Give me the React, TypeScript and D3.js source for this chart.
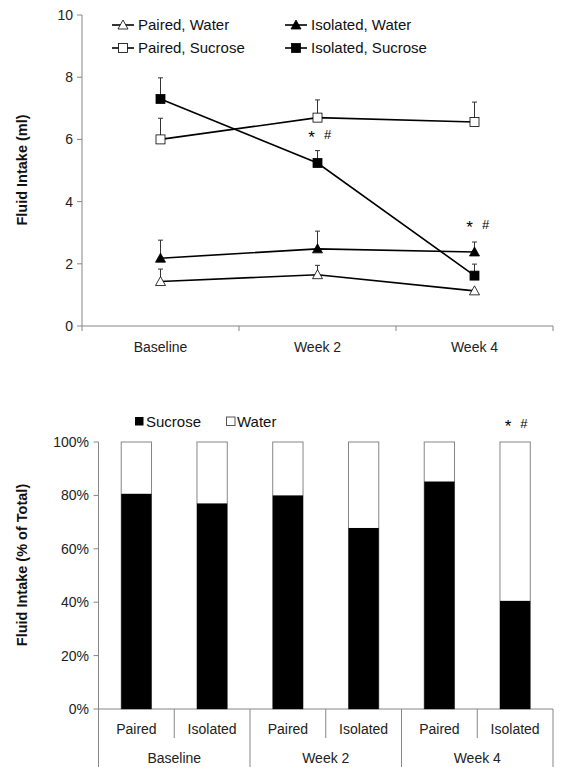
import React from "react";
import * as d3 from "d3";

const timepoints = ["Baseline", "Week 2", "Week 4"];
const lineSeries = ["Paired, Water", "Isolated, Water", "Paired, Sucrose", "Isolated, Sucrose"];
const pairedWater = [1.43, 1.65, 1.13];
const pairedWaterErr = [0.4, 0.3, 0.0];
const isolatedWater = [2.18, 2.48, 2.38];
const isolatedWaterErr = [0.58, 0.57, 0.32];
const pairedSucrose = [6.0, 6.7, 6.56];
const pairedSucroseErr = [0.68, 0.57, 0.64];
const isolatedSucrose = [7.3, 5.24, 1.62];
const isolatedSucroseErr = [0.68, 0.4, 0.37];
const topTicks = [0, 2, 4, 6, 8, 10];

const groups = ["Paired", "Isolated"];
const sucrosePct = [80.6, 77, 80, 67.8, 85.2, 40.5];
const pctTicks = [0, 20, 40, 60, 80, 100];
const barLegend = ["Sucrose", "Water"];

const FONT = "'Liberation Sans', Arial, sans-serif";
const AXIS = "#868686";

function Marker({ kind, x, y }: { kind: string; x: number; y: number }) {
  const filled = kind.startsWith("Isolated");
  const fill = filled ? "#000" : "#fff";
  if (kind.endsWith("Water")) {
    const s = 5;
    const p = `M${x},${y - s} L${x + s},${y + s * 0.8} L${x - s},${y + s * 0.8} Z`;
    return <path d={p} fill={fill} stroke="#000" strokeWidth={0.8} />;
  }
  return <rect x={x - 4.5} y={y - 4.5} width={9} height={9} fill={fill} stroke="#000" strokeWidth={0.8} />;
}

export default function App() {
  const W = 573;
  const H = 784;
  // Top chart
  const x0 = d3.scaleBand().domain(timepoints).range([82, 553]);
  const y0 = d3.scaleLinear().domain([0, 10]).range([326, 15]);
  const data = [pairedWater, isolatedWater, pairedSucrose, isolatedSucrose];
  const errs = [pairedWaterErr, isolatedWaterErr, pairedSucroseErr, isolatedSucroseErr];
  const cx = (t: string) => (x0(t) as number) + x0.bandwidth() / 2;
  const line = d3
    .line<number>()
    .x((_, i) => cx(timepoints[i]))
    .y((d) => y0(d));

  // Bottom chart
  const barCats = timepoints.flatMap((t) => groups.map((g) => `${t}|${g}`));
  const x1 = d3.scaleBand().domain(barCats).range([98.5, 553]).paddingInner(0.6).paddingOuter(0.3);
  const xs = d3.scaleBand().domain(barCats).range([98.5, 553]);
  const y1 = d3.scaleLinear().domain([0, 100]).range([709, 442]);

  const legendPos = [
    [112, 25],
    [285, 25],
    [112, 48],
    [285, 48],
  ];

  return (
    <svg width={W} height={H} style={{ position: "absolute", left: 0, top: 0, fontFamily: FONT }}>
      <rect width={W} height={H} fill="#fff" />
      {/* Top chart axes */}
      <line x1={82} x2={82} y1={y0(10)} y2={y0(0)} stroke={AXIS} />
      <line x1={82} x2={553} y1={y0(0)} y2={y0(0)} stroke={AXIS} />
      {topTicks.map((t) => (
        <g key={t}>
          <line x1={77} x2={82} y1={y0(t)} y2={y0(t)} stroke={AXIS} />
          <text x={73} y={y0(t)} dy="0.35em" textAnchor="end" fontSize={14} fill="#222">
            {t}
          </text>
        </g>
      ))}
      {[...timepoints.map((t) => x0(t) as number), 553].map((v, i) => (
        <line key={i} x1={v} x2={v} y1={y0(0)} y2={y0(0) + 5} stroke={AXIS} />
      ))}
      {timepoints.map((t) => (
        <text key={t} x={cx(t)} y={347} dy="0.35em" textAnchor="middle" fontSize={14} fill="#222">
          {t}
        </text>
      ))}
      <text
        transform={`translate(27,170) rotate(-90)`}
        textAnchor="middle"
        fontSize={14.5}
        fontWeight="bold"
        fill="#111"
      >
        Fluid Intake (ml)
      </text>
      {/* error bars */}
      {data.map((s, si) =>
        s.map((v, i) =>
          errs[si][i] > 0 ? (
            <g key={`e${si}-${i}`} stroke="#333" strokeWidth={1}>
              <line x1={cx(timepoints[i])} x2={cx(timepoints[i])} y1={y0(v)} y2={y0(v + errs[si][i])} />
              <line
                x1={cx(timepoints[i]) - 2.5}
                x2={cx(timepoints[i]) + 2.5}
                y1={y0(v + errs[si][i])}
                y2={y0(v + errs[si][i])}
              />
            </g>
          ) : null
        )
      )}
      {data.map((s, si) => (
        <path key={`l${si}`} d={line(s) || ""} fill="none" stroke="#000" strokeWidth={1.6} />
      ))}
      {data.map((s, si) =>
        s.map((v, i) => <Marker key={`m${si}-${i}`} kind={lineSeries[si]} x={cx(timepoints[i])} y={y0(v)} />)
      )}
      {/* significance markers */}
      <text x={cx("Week 2") - 6} y={143} textAnchor="middle" fontSize={17}>*</text>
      <text x={cx("Week 2") + 10} y={139} textAnchor="middle" fontSize={13}>#</text>
      <text x={cx("Week 4") - 5} y={233} textAnchor="middle" fontSize={17}>*</text>
      <text x={cx("Week 4") + 11} y={229} textAnchor="middle" fontSize={13}>#</text>
      {/* legend */}
      {lineSeries.map((s, i) => (
        <g key={s}>
          <line x1={legendPos[i][0]} x2={legendPos[i][0] + 22} y1={legendPos[i][1]} y2={legendPos[i][1]} stroke="#000" strokeWidth={1.6} />
          <Marker kind={s} x={legendPos[i][0] + 11} y={legendPos[i][1]} />
          <text x={legendPos[i][0] + 26} y={legendPos[i][1]} dy="0.36em" fontSize={15} fill="#111">
            {s}
          </text>
        </g>
      ))}

      {/* Bottom chart */}
      <line x1={98.5} x2={98.5} y1={y1(100)} y2={y1(0)} stroke={AXIS} />
      <line x1={98.5} x2={553} y1={y1(0)} y2={y1(0)} stroke={AXIS} />
      {pctTicks.map((t) => (
        <g key={t}>
          <line x1={93.5} x2={98.5} y1={y1(t)} y2={y1(t)} stroke={AXIS} />
          <text x={89} y={y1(t)} dy="0.35em" textAnchor="end" fontSize={14} fill="#222">
            {t}%
          </text>
        </g>
      ))}
      <text
        transform={`translate(27,565) rotate(-90)`}
        textAnchor="middle"
        fontSize={14.5}
        fontWeight="bold"
        fill="#111"
      >
        Fluid Intake (% of Total)
      </text>
      {barCats.map((c, i) => (
        <g key={c}>
          <rect
            x={x1(c) as number}
            y={y1(100)}
            width={x1.bandwidth()}
            height={y1(0) - y1(100)}
            fill="#fff"
            stroke={AXIS}
          />
          <rect
            x={x1(c) as number}
            y={y1(sucrosePct[i])}
            width={x1.bandwidth()}
            height={y1(0) - y1(sucrosePct[i])}
            fill="#000"
          />
        </g>
      ))}
      {/* hierarchical axis */}
      {barCats.map((c, i) => {
        const xl = xs(c) as number;
        const isGroupStart = i % 2 === 0;
        return (
          <g key={`ax${c}`}>
            <line x1={xl} x2={xl} y1={y1(0)} y2={isGroupStart ? 767 : 738} stroke={AXIS} />
            <text x={xl + xs.bandwidth() / 2} y={729} dy="0.35em" textAnchor="middle" fontSize={14} fill="#222">
              {c.split("|")[1]}
            </text>
          </g>
        );
      })}
      <line x1={553} x2={553} y1={y1(0)} y2={767} stroke={AXIS} />
      {timepoints.map((t) => {
        const a = xs(`${t}|Paired`) as number;
        return (
          <text key={`g${t}`} x={a + xs.bandwidth()} y={758} dy="0.35em" textAnchor="middle" fontSize={14} fill="#222">
            {t}
          </text>
        );
      })}
      <text x={x1("Week 4|Isolated")! + 8} y={432} textAnchor="middle" fontSize={17}>*</text>
      <text x={x1("Week 4|Isolated")! + 24} y={428} textAnchor="middle" fontSize={13}>#</text>
      {/* bar legend */}
      <rect x={135} y={417} width={8.5} height={8.5} fill="#000" />
      <text x={146} y={421.5} dy="0.36em" fontSize={15} fill="#111">{barLegend[0]}</text>
      <rect x={226.5} y={417} width={8.5} height={8.5} fill="#fff" stroke="#555" />
      <text x={237} y={421.5} dy="0.36em" fontSize={15} fill="#111">{barLegend[1]}</text>
    </svg>
  );
}
